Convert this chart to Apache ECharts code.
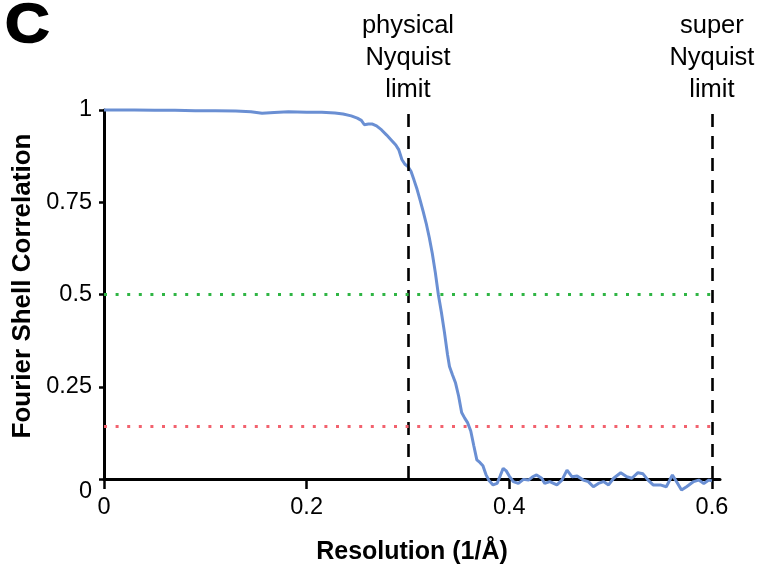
<!DOCTYPE html>
<html>
<head>
<meta charset="utf-8">
<script src="https://cdn.jsdelivr.net/npm/echarts@6/dist/echarts.min.js"></script>
<style>
  html, body { margin: 0; padding: 0; background: #fff; }
  #chart { width: 764px; height: 571px; }
</style>
</head>
<body>
<div id="chart"></div>
<script>
// Spatial frequency of each shell (1/Å)
const resolution = [
  0.000, 0.015, 0.030, 0.050, 0.070, 0.090, 0.110, 0.130, 0.145, 0.156,
  0.168, 0.182, 0.200, 0.215, 0.228, 0.236, 0.244, 0.250, 0.254, 0.257,
  0.261, 0.265, 0.269, 0.274, 0.279, 0.283, 0.288, 0.291, 0.294, 0.297,
  0.300, 0.303, 0.306, 0.309, 0.312, 0.315, 0.318, 0.321, 0.324, 0.327,
  0.330, 0.333, 0.336, 0.339, 0.341, 0.344, 0.347, 0.350, 0.353, 0.356,
  0.359, 0.362, 0.365, 0.368, 0.371, 0.374, 0.377, 0.380, 0.384, 0.388,
  0.391, 0.394, 0.397, 0.400, 0.404, 0.409, 0.414, 0.419, 0.423, 0.427,
  0.432, 0.435, 0.440, 0.447, 0.452, 0.457, 0.462, 0.467, 0.473, 0.478,
  0.483, 0.488, 0.493, 0.498, 0.503, 0.510, 0.516, 0.521, 0.527, 0.532,
  0.537, 0.542, 0.549, 0.555, 0.561, 0.565, 0.570, 0.575, 0.582, 0.587,
  0.592, 0.597, 0.600
];

// Fourier shell correlation per shell
const fsc = [
  1.000, 1.000, 1.000, 0.999, 0.999, 0.998, 0.998, 0.997, 0.995, 0.991,
  0.993, 0.995, 0.994, 0.994, 0.992, 0.989, 0.984, 0.978, 0.972, 0.960,
  0.962, 0.962, 0.957, 0.946, 0.932, 0.920, 0.905, 0.892, 0.866, 0.853,
  0.847, 0.834, 0.810, 0.785, 0.756, 0.725, 0.693, 0.655, 0.612, 0.560,
  0.500, 0.452, 0.398, 0.338, 0.305, 0.282, 0.260, 0.225, 0.180, 0.165,
  0.152, 0.130, 0.090, 0.052, 0.045, 0.036, 0.012, -0.004, -0.016, -0.012,
  0.008, 0.029, 0.022, 0.008, -0.007, -0.012, -0.001, -0.003, 0.006, 0.011,
  0.002, -0.012, -0.007, -0.016, -0.003, 0.024, 0.006, 0.008, -0.003, -0.007,
  -0.021, -0.012, -0.007, -0.016, 0.002, 0.017, 0.006, 0.002, 0.017, 0.014,
  -0.003, -0.016, -0.016, -0.021, 0.011, -0.007, -0.030, -0.021, -0.007, -0.003,
  -0.012, -0.003, -0.005
];

// Tick values
const xTicks = [0, 0.2, 0.4, 0.6];
const yTicks = [0, 0.25, 0.5, 0.75, 1];

// Resolution limits (vertical dashed lines) and their labels
const nyquistLimits = [0.3, 0.6];
const nyquistLabels = ['physical\nNyquist\nlimit', 'super\nNyquist\nlimit'];

// FSC thresholds (horizontal dotted lines)
const thresholds = [0.5, 0.143];
const thresholdColors = ['#2fb544', '#f2626e'];

const FONT = '"Liberation Sans", Arial, Helvetica, sans-serif';
const chart = echarts.init(document.getElementById('chart'), null, { renderer: 'canvas' });

const pairs = resolution.map((r, i) => [r, fsc[i]]);

const markData = [];
nyquistLimits.forEach((x, i) => {
  markData.push([
    { coord: [x, 0], lineStyle: { color: '#000', width: 2.6, type: [13, 9] },
      label: { show: true, formatter: nyquistLabels[i] } },
    { coord: [x, 1] }
  ]);
});
thresholds.forEach((y, i) => {
  markData.push([
    { coord: [0, y], lineStyle: { color: thresholdColors[i], width: 3.2, type: [3, 8.6], cap: 'butt' },
      label: { show: false } },
    { coord: [0.6, y] }
  ]);
});

chart.setOption({
  animation: false,
  backgroundColor: '#ffffff',
  graphic: [{
    type: 'text',
    left: 4,
    top: -1,
    scaleX: 1.12,
    style: { text: 'C', font: 'bold 55px ' + FONT, fill: '#000', stroke: '#000', lineWidth: 1.6 }
  }],
  grid: { left: 104, top: 110, width: 616, height: 369, containLabel: false },
  xAxis: {
    type: 'value',
    min: 0,
    max: 0.608,
    name: 'Resolution (1/Å)',
    nameLocation: 'middle',
    nameGap: 61,
    nameTextStyle: { fontFamily: FONT, fontSize: 25, fontWeight: 'bold', color: '#000' },
    axisLine: { show: true, onZero: false, lineStyle: { color: '#000', width: 3 } },
    axisTick: { show: true, length: 10, customValues: xTicks, lineStyle: { color: '#000', width: 2.5 } },
    axisLabel: {
      customValues: xTicks,
      margin: 17,
      fontFamily: FONT, fontSize: 23.5, color: '#000',
      formatter: v => String(v)
    },
    splitLine: { show: false }
  },
  yAxis: {
    type: 'value',
    min: 0,
    max: 1,
    interval: 0.25,
    name: 'Fourier Shell Correlation',
    nameLocation: 'middle',
    nameGap: 65,
    nameRotate: 90,
    nameTextStyle: { fontFamily: FONT, fontSize: 26, fontWeight: 'bold', color: '#000', padding: [0, 0, 0, 17] },
    axisLine: { show: true, onZero: false, lineStyle: { color: '#000', width: 3 } },
    axisTick: { show: true, length: 5, lineStyle: { color: '#000', width: 2.5 } },
    axisLabel: {
      margin: 12,
      fontFamily: FONT, fontSize: 23.5, color: '#000',
      formatter: v => (v === 0 ? '{z|0}' : String(v)),
      rich: { z: { fontFamily: FONT, fontSize: 23.5, color: '#000', padding: [25, 0, 0, 0] } }
    },
    splitLine: { show: false }
  },
  series: [{
    type: 'line',
    data: pairs,
    clip: false,
    showSymbol: false,
    symbol: 'none',
    smooth: false,
    lineStyle: { color: '#6a8fd3', width: 3 },
    z: 2,
    markLine: {
      silent: true,
      symbol: ['none', 'none'],
      z: 5,
      label: {
        position: 'end',
        distance: 4,
        fontFamily: FONT,
        fontSize: 25.5,
        lineHeight: 32,
        color: '#000',
        align: 'center'
      },
      data: markData
    }
  }]
});
</script>
</body>
</html>
